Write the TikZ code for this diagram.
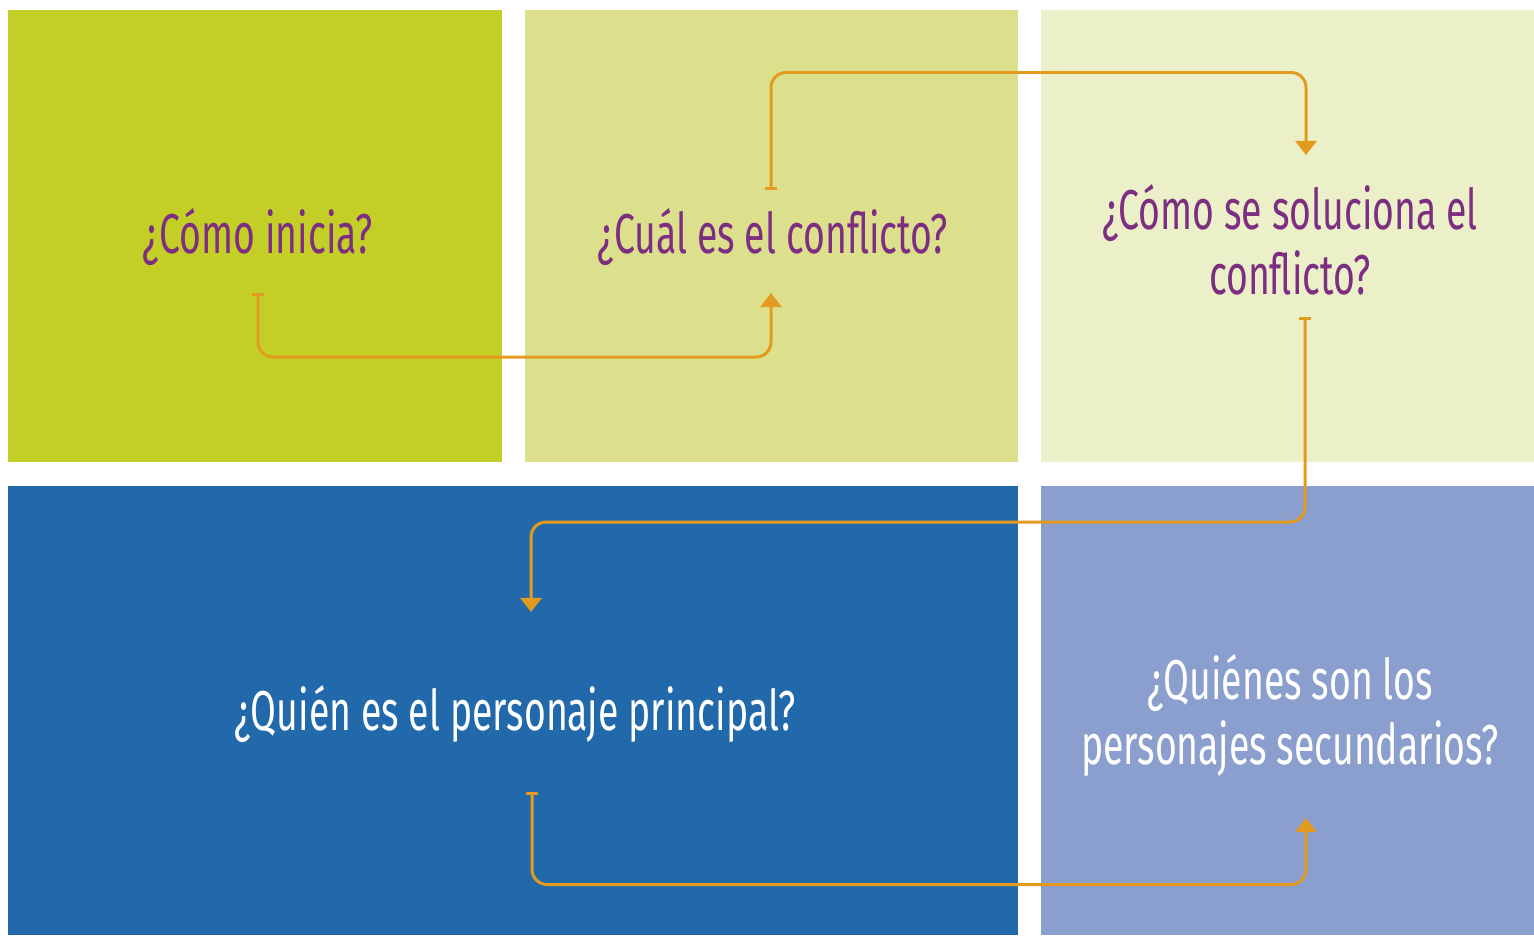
\documentclass[tikz,border=0pt]{standalone}
\usepackage{fontspec}
\setmainfont{Fira Sans}[FakeStretch=0.665]
\usepackage{tikz}
\usetikzlibrary{arrows.meta}
\usetikzlibrary{calc}
\definecolor{lima}{HTML}{C3CF27}
\definecolor{limaclaro}{HTML}{DCE08C}
\definecolor{limapalido}{HTML}{EBF0C8}
\definecolor{azul}{HTML}{2169AA}
\definecolor{azulclaro}{HTML}{8A9FCE}
\definecolor{morado}{HTML}{7D2E82}
\definecolor{naranja}{HTML}{E39B1F}
\tikzstyle{pregunta} = [align=center,font=\fontsize{16}{18.5}\selectfont,inner sep=0pt]
\tikzstyle{flecha} = [draw=naranja,line width=0.85pt,rounded corners=0.15cm,{Bar[width=3.5pt]}-{Triangle[width=6pt,length=4pt]}]

\begin{document}
\begin{tikzpicture}[scale=1]
\useasboundingbox (0,0) rectangle (15.34,-9.35);
\fill[white] (0,0) rectangle (15.34,-9.35);

% casillas
\fill[lima] (0.08,-0.10) rectangle (5.02,-4.62);
\fill[limaclaro] (5.25,-0.10) rectangle (10.18,-4.62);
\fill[limapalido] (10.41,-0.10) rectangle (15.34,-4.62);
\fill[azul] (0.08,-4.86) rectangle (10.18,-9.35);
\fill[azulclaro] (10.41,-4.86) rectangle (15.34,-9.35);

% preguntas
\draw(2.58,-2.37) node[pregunta,text=morado] (inicio) {¿Cómo inicia?};
\draw(7.73,-2.37) node[pregunta,text=morado] (conflicto) {¿Cuál es el conflicto?};
\draw(12.90,-2.40) node[pregunta,text=morado] (solucion) {¿Cómo se soluciona el\\conflicto?};
\draw(5.15,-7.14) node[pregunta,text=white] (principal) {¿Quién es el personaje principal?};
\draw(12.90,-7.15) node[pregunta,text=white] (secundarios) {¿Quiénes son los\\personajes secundarios?};

% flechas
\draw[flecha] ($(inicio.center)+(0,-0.56)$) |- ($(inicio.center)!0.5!(conflicto.center)+(0,-1.20)$) -| ($(conflicto.center)+(-0.02,-0.56)$);
\draw[flecha] ($(conflicto.center)+(-0.02,0.47)$) |- ($(conflicto.center)!0.5!(solucion.center)+(0,1.66)$) -| ($(solucion.center)+(0.16,0.85)$);
\draw[flecha] ($(solucion.center)+(0.15,-0.77)$) |- ($(solucion.center)!0.5!(principal.center)+(0,-0.45)$) -| ($(principal.center)+(0.16,1.02)$);
\draw[flecha] ($(principal.center)+(0.17,-0.78)$) |- ($(principal.center)!0.5!(secundarios.center)+(0,-1.70)$) -| ($(secundarios.center)+(0.16,-1.03)$);

\end{tikzpicture}
\end{document}
